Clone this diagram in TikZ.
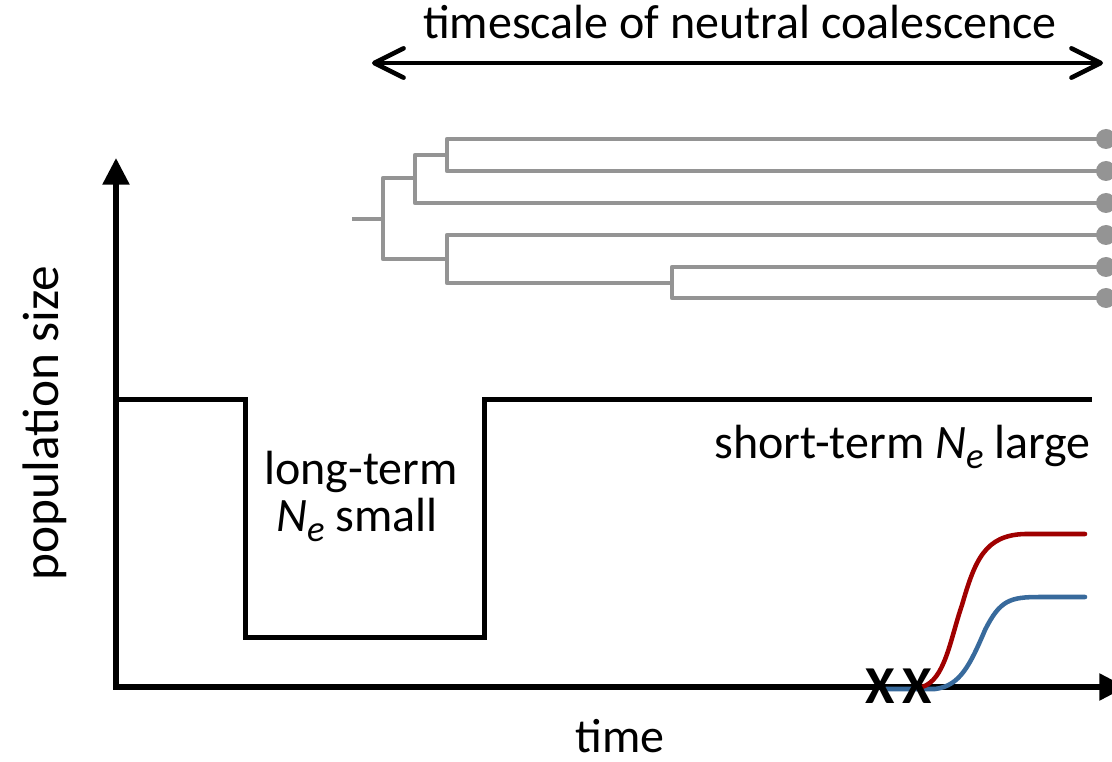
\documentclass[tikz,border=0pt]{standalone}
\usepackage{fontspec}
\setmainfont{Carlito}
\usetikzlibrary{arrows.meta}
\definecolor{treegray}{RGB}{148,148,148}
\definecolor{curvered}{RGB}{160,0,0}
\definecolor{curveblue}{RGB}{56,106,156}
\newcommand{\Ne}{\textit{N}\raisebox{-0.22em}{\fontsize{27.5}{27.5}\selectfont\textit{e}}}
\begin{document}
\begin{tikzpicture}[x=0.75pt,y=-0.75pt,
  lbl/.style={inner sep=0pt,font=\fontsize{36}{42}\selectfont},
  axis/.style={line width=4.1pt,-{Triangle[length=20pt,width=19.5pt]}},
  popline/.style={line width=3.75pt,line join=miter},
  branch/.style={draw=treegray,line width=3.3pt,line join=round},
  tip/.style={circle,fill=treegray,minimum size=15pt,inner sep=0pt},
  scalearrow/.style={line width=3.4pt,{Straight Barb[length=22pt,width=22pt,line join=round,line cap=round]}-{Straight Barb[length=22pt,width=22pt,line join=round,line cap=round]}},
  curve/.style={line width=3.4pt,line cap=round},
  xmark/.style={inner sep=0pt,font=\bfseries\fontsize{40}{42}\selectfont}]
\useasboundingbox (0,0) rectangle (1112,762);

% coordinates
\coordinate (origin) at (116,687);
\coordinate (ytip) at (116,158);
\coordinate (xtip) at (1126,687);

% title arrow
\coordinate (tsL) at (372,63);
\coordinate (tsR) at (1103,63);
\draw[scalearrow] (tsL) -- (tsR);
\node[lbl,anchor=base] (title) at (740,39) {timescale of neutral coalescence};

% tree
\coordinate (L1) at (1106,139);
\coordinate (L2) at (1106,171);
\coordinate (L3) at (1106,203);
\coordinate (L4) at (1106,235);
\coordinate (L5) at (1106,267);
\coordinate (L6) at (1106,298);
\coordinate (A) at (447,155);
\coordinate (B) at (415,178);
\coordinate (C) at (672,283);
\coordinate (D) at (447,259);
\coordinate (R) at (383,219);
\coordinate (stem) at (352,219);
\draw[branch] (L1) -| (A) |- (L2);
\draw[branch] (A) -| (B) |- (L3);
\draw[branch] (L5) -| (C) |- (L6);
\draw[branch] (L4) -| (D) |- (C);
\draw[branch] (B) -| (R) |- (D);
\draw[branch] (R) -- (stem);
\foreach \l in {L1,L2,L3,L4,L5,L6} \node[tip] at (\l) {};

% population size history
\coordinate (p0) at (116,399);
\coordinate (p1) at (245,399);
\coordinate (p2) at (245,637);
\coordinate (p3) at (484,637);
\coordinate (p4) at (484,399);
\coordinate (p5) at (1092,399);
\draw[popline] (p0) -- (p1) -- (p2) -- (p3) -- (p4) -- (p5);

% axes
\draw[axis] (origin) -- (ytip);
\draw[axis] ([xshift=-2.05pt]origin) -- (xtip);

% curves
\coordinate (b0) at (886,689);
\coordinate (b1) at (935,689);
\coordinate (bm) at (985,630);
\coordinate (b2) at (1040,597);
\coordinate (b3) at (1085,597);
\draw[curve,curveblue] (b0) -- (b1) .. controls (960,686) and (970,665) .. (bm) .. controls (1000,600) and (1010,597) .. (b2) -- (b3);
\coordinate (r0) at (922,687);
\coordinate (rm) at (962,605);
\coordinate (r2) at (1025,534);
\coordinate (r3) at (1085,534);
\draw[curve,curvered] (r0) .. controls (945,680) and (950,640) .. (rm) .. controls (975,560) and (985,535) .. (r2) -- (r3);

\node[xmark] (x1) at (880,686) {X};
\node[xmark] (x2) at (917,686) {X};

% labels
\node[lbl,anchor=base] (lt1) at (361,484) {long-term};
\node[lbl,anchor=base] (lt2) at (357,531) {\Ne{} small};
\node[lbl,anchor=base east] (st) at (1091,458) {short-term \Ne{} large};
\node[lbl,anchor=base,rotate=90,font=\fontsize{38.5}{42}\selectfont] (ylab) at (58,423) {population size};
\node[lbl,anchor=base] (xlab) at (620,752) {time};
\end{tikzpicture}
\end{document}
